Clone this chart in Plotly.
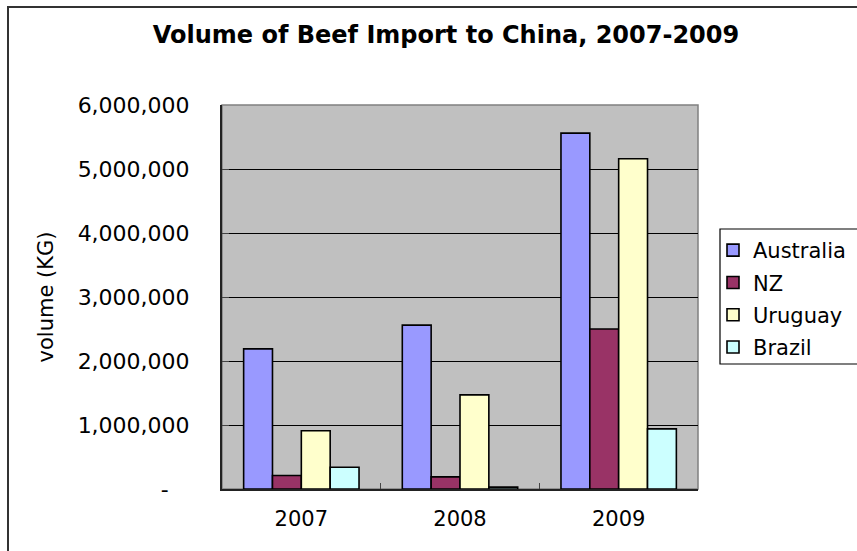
import plotly.graph_objects as go

years = ["2007", "2008", "2009"]
australia = [2190000, 2560000, 5560000]
nz = [210000, 190000, 2500000]
uruguay = [910000, 1470000, 5160000]
brazil = [340000, 30000, 940000]

series = [
    ("Australia", australia, "#9999FF"),
    ("NZ", nz, "#993366"),
    ("Uruguay", uruguay, "#FFFFCC"),
    ("Brazil", brazil, "#CCFFFF"),
]

ytick_vals = [0, 1000000, 2000000, 3000000, 4000000, 5000000, 6000000]
ytick_text = ["-" + "\u00a0" * 3, "1,000,000", "2,000,000", "3,000,000",
              "4,000,000", "5,000,000", "6,000,000"]

FONT = "DejaVu Sans"

fig = go.Figure()
for name, vals, col in series:
    fig.add_trace(go.Bar(
        x=years, y=vals, name=name, legendgroup=name,
        marker=dict(color=col, line=dict(color="black", width=1.6)),
    ))

W, H = 857, 551
L, R, T, B = 222, 857 - 698, 105, 551 - 489
pw, ph = W - L - R, H - T - B

def px_x(x):
    return (x - L) / pw

def px_y(y):
    return (H - B - y) / ph

fig.update_layout(
    width=W, height=H,
    margin=dict(l=L, r=R, t=T, b=B, autoexpand=False),
    paper_bgcolor="white",
    plot_bgcolor="#C0C0C0",
    barmode="group",
    bargap=1.5 / 5.5,
    bargroupgap=0,
    font=dict(family=FONT, size=21, color="black"),
    title=dict(
        text="<b>Volume of Beef Import to China, 2007-2009</b>",
        x=446 / W, xanchor="center", xref="container",
        y=1 - 35 / H, yanchor="middle", yref="container",
        font=dict(family=FONT, size=24, color="black"),
    ),
    showlegend=True,
    legend=dict(
        x=px_x(713), xanchor="left",
        y=px_y(230), yanchor="top",
        bgcolor="rgba(0,0,0,0)",
        borderwidth=0,
        font=dict(family=FONT, size=21, color="black"),
        tracegroupgap=2,
        itemwidth=30,
    ),
    xaxis=dict(
        type="category",
        showline=True, linecolor="#222222", linewidth=2,
        ticks="inside", ticklen=6, tickcolor="#444444", tickson="boundaries",
        showgrid=False,
        ticklabelstandoff=10,
        tickfont=dict(family=FONT, size=21),
        fixedrange=True,
    ),
    yaxis=dict(
        range=[0, 6000000],
        tickvals=ytick_vals, ticktext=ytick_text,
        showline=True, linecolor="#222222", linewidth=2,
        ticks="inside", ticklen=7, tickcolor="#444444",
        showgrid=True, gridcolor="black", gridwidth=1,
        zeroline=False,
        ticklabelstandoff=26,
        tickfont=dict(family=FONT, size=22),
        title=dict(text="volume (KG)", font=dict(family=FONT, size=21), standoff=18),
    ),
    shapes=[
        dict(type="rect", xref="paper", yref="paper", x0=0, x1=1, y0=0, y1=1,
             line=dict(color="#808080", width=1.5), layer="below"),
        dict(type="rect", xref="paper", yref="paper",
             x0=px_x(720), x1=px_x(900), y0=px_y(364), y1=px_y(229),
             line=dict(color="black", width=1.2), fillcolor="rgba(0,0,0,0)"),
        dict(type="rect", xref="paper", yref="paper",
             x0=px_x(8), x1=px_x(920), y0=px_y(620), y1=px_y(7),
             line=dict(color="#333333", width=2), fillcolor="rgba(0,0,0,0)"),
    ],
)

fig.write_html("out.html")
